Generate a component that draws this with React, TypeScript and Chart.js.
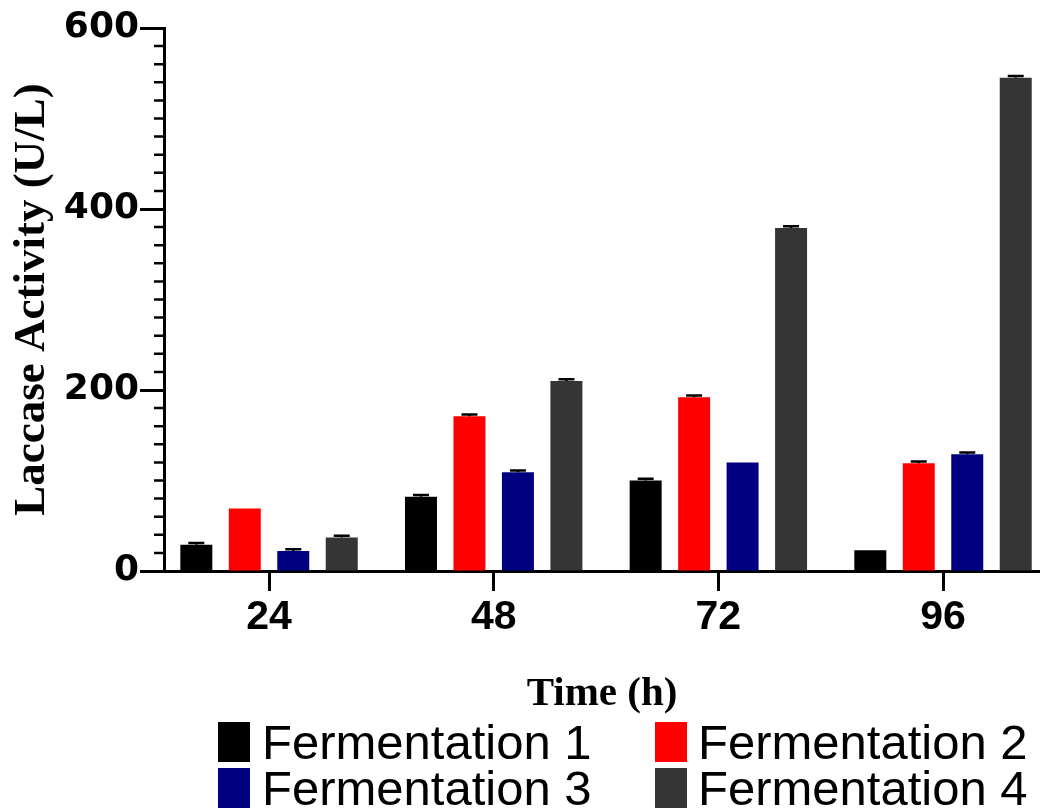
import React, { useEffect, useRef } from "react";
import { Chart, registerables } from "chart.js";

Chart.register(...registerables);

// ---- data ----
const hours = [24, 48, 72, 96];
const seriesNames = ["Fermentation 1", "Fermentation 2", "Fermentation 3", "Fermentation 4"];
const seriesColors = ["#000000", "#ff0000", "#000080", "#353535"];
const fermentation1 = [29, 82, 100, 23];
const fermentation2 = [69, 171, 192, 119];
const fermentation3 = [22, 109, 120, 129];
const fermentation4 = [37, 210, 379, 545];
const error1 = [2, 2, 2, 0];
const error2 = [0, 2, 2, 2];
const error3 = [2, 2, 0, 2];
const error4 = [2, 2, 2, 2];
const yMajorTicks = [0, 200, 400, 600];
const yMinorStep = 20;
const yMin = 0;
const yMax = 600;

const seriesValues = [fermentation1, fermentation2, fermentation3, fermentation4];
const seriesErrors = [error1, error2, error3, error4];

const errorBarPlugin = {
  id: "errorBars",
  afterDatasetsDraw(chart: any) {
    const ctx = chart.ctx;
    const yScale = chart.scales.y;
    chart.data.datasets.forEach((ds: any, i: number) => {
      const meta = chart.getDatasetMeta(i);
      meta.data.forEach((bar: any, j: number) => {
        const e = ds.errors[j];
        if (!e) return;
        const v = ds.data[j].y;
        const yTop = yScale.getPixelForValue(v + e);
        const yBase = yScale.getPixelForValue(v);
        const w = bar.width;
        ctx.save();
        ctx.strokeStyle = "#000";
        ctx.lineWidth = 2.5;
        ctx.beginPath();
        ctx.moveTo(bar.x, yBase);
        ctx.lineTo(bar.x, yTop);
        ctx.moveTo(bar.x - w / 4, yTop);
        ctx.lineTo(bar.x + w / 4, yTop);
        ctx.stroke();
        ctx.restore();
      });
    });
  },
};

const minorTickPlugin = {
  id: "minorTicks",
  afterDraw(chart: any) {
    const s = chart.scales.y;
    const ctx = chart.ctx;
    ctx.save();
    ctx.strokeStyle = "#000";
    ctx.lineWidth = 2.5;
    ctx.beginPath();
    s.ticks.forEach((t: any) => {
      if (yMajorTicks.includes(t.value)) return;
      const py = s.getPixelForValue(t.value);
      ctx.moveTo(s.right, py);
      ctx.lineTo(s.right - 10, py);
    });
    ctx.stroke();
    ctx.restore();
  },
};

function ChartCanvas() {
  const ref = useRef<HTMLCanvasElement | null>(null);
  useEffect(() => {
    if (!ref.current) return;
    const chart = new Chart(ref.current, {
      type: "bar",
      data: {
        datasets: seriesNames.map((name, i) => ({
          label: name,
          data: hours.map((h, j) => ({ x: h, y: seriesValues[i][j] })),
          errors: seriesErrors[i],
          backgroundColor: seriesColors[i],
          borderWidth: 0,
          categoryPercentage: 0.863,
          barPercentage: 0.66,
        })) as any,
      },
      options: {
        animation: false,
        responsive: false,
        devicePixelRatio: 1,
        layout: { padding: { top: 28, left: 0, right: 0, bottom: 0 } },
        plugins: {
          legend: { display: false },
          tooltip: { enabled: false },
        },
        scales: {
          x: {
            type: "linear",
            min: 12.78,
            max: 106.36,
            offset: false,
            z: 1,
            afterBuildTicks: (scale: any) => {
              scale.ticks = hours.map((h) => ({ value: h }));
            },
            afterFit: (scale: any) => {
              scale.height = 237;
            },
            ticks: {
              autoSkip: false,
              maxRotation: 0,
              color: "#000",
              padding: 2,
              font: { family: "'Liberation Sans', Arial, sans-serif", size: 41, weight: "bold" },
              callback: (v: any) => String(v),
            },
            grid: {
              offset: false,
              drawOnChartArea: false,
              drawTicks: true,
              tickLength: 20,
              tickWidth: 3,
              tickColor: "#000",
            },
            border: { display: true, color: "#000", width: 3 },
            title: {
              display: true,
              text: "Time (h)",
              color: "#000",
              padding: { top: 0, bottom: 89 },
              font: { family: "'Liberation Serif', 'Times New Roman', serif", size: 41, weight: "bold" },
            },
          },
          y: {
            type: "linear",
            min: yMin,
            max: yMax,
            z: 1,
            afterBuildTicks: (scale: any) => {
              const t: any[] = [];
              for (let v = yMin; v <= yMax; v += yMinorStep) t.push({ value: v });
              scale.ticks = t;
            },
            afterFit: (scale: any) => {
              scale.width = 164;
            },
            ticks: {
              autoSkip: false,
              color: "#000",
              padding: 1,
              font: { family: "'DejaVu Sans', sans-serif", size: 36, weight: "bold" },
              callback: (v: any) => (yMajorTicks.includes(v) ? String(v) : ""),
            },
            grid: {
              drawOnChartArea: false,
              drawTicks: true,
              tickLength: 24,
              tickWidth: (c: any) => (yMajorTicks.includes(c.tick?.value) ? 3 : 0),
              tickColor: (c: any) => (yMajorTicks.includes(c.tick?.value) ? "#000" : "rgba(0,0,0,0)"),
            },
            border: { display: true, color: "#000", width: 3 },
            title: {
              display: true,
              text: "Laccase Activity (U/L)",
              color: "#000",
              padding: { top: 5, bottom: 0 },
              font: { family: "'Liberation Serif', 'Times New Roman', serif", size: 45, weight: "bold" },
            },
          },
        },
      } as any,
      plugins: [errorBarPlugin, minorTickPlugin],
    });
    return () => chart.destroy();
  }, []);
  return (
    <canvas
      ref={ref}
      width={1040}
      height={808}
      style={{ position: "absolute", left: 0, top: 0, width: 1040, height: 808 }}
    />
  );
}

const legendPos = [
  { box: [218, 722], text: [262, 718] },
  { box: [655, 722], text: [698, 718] },
  { box: [218, 768], text: [262, 764] },
  { box: [655, 768], text: [698, 764] },
];

export default function App() {
  return (
    <div
      style={{
        position: "absolute",
        left: 0,
        top: 0,
        width: 1040,
        height: 808,
        overflow: "hidden",
        background: "#fff",
      }}
    >
      <ChartCanvas />
      {seriesNames.map((name, i) => (
        <React.Fragment key={name}>
          <div
            style={{
              position: "absolute",
              left: legendPos[i].box[0],
              top: legendPos[i].box[1],
              width: 32,
              height: 40,
              background: seriesColors[i],
            }}
          />
          <div
            style={{
              position: "absolute",
              left: legendPos[i].text[0],
              top: legendPos[i].text[1],
              fontFamily: "'Liberation Sans', Arial, sans-serif",
              fontSize: 49,
              lineHeight: "48px",
              color: "#000",
              whiteSpace: "nowrap",
            }}
          >
            {name}
          </div>
        </React.Fragment>
      ))}
    </div>
  );
}
